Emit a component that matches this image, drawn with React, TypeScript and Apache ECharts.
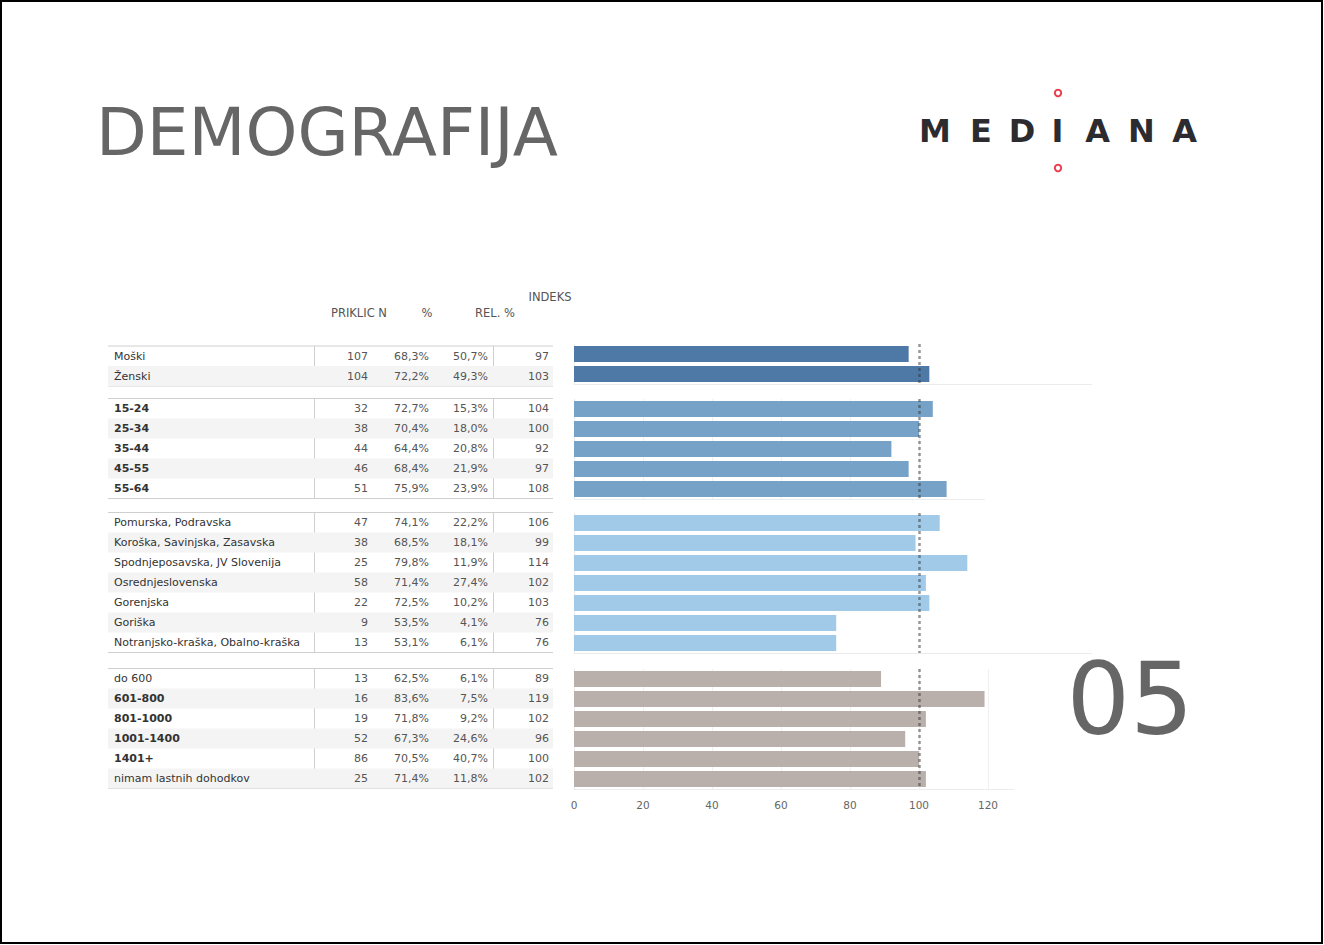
import React, { useEffect, useRef } from "react";
import * as echarts from "echarts";

// ---------- DATA ----------
const genderLabels = ["Moški", "Ženski"];
const genderN = [107, 104];
const genderPct = [68.3, 72.2];
const genderRel = [50.7, 49.3];
const genderIndex = [97, 103];

const ageLabels = ["15-24", "25-34", "35-44", "45-55", "55-64"];
const ageN = [32, 38, 44, 46, 51];
const agePct = [72.7, 70.4, 64.4, 68.4, 75.9];
const ageRel = [15.3, 18.0, 20.8, 21.9, 23.9];
const ageIndex = [104, 100, 92, 97, 108];

const regionLabels = [
  "Pomurska, Podravska",
  "Koroška, Savinjska, Zasavska",
  "Spodnjeposavska, JV Slovenija",
  "Osrednjeslovenska",
  "Gorenjska",
  "Goriška",
  "Notranjsko-kraška, Obalno-kraška",
];
const regionN = [47, 38, 25, 58, 22, 9, 13];
const regionPct = [74.1, 68.5, 79.8, 71.4, 72.5, 53.5, 53.1];
const regionRel = [22.2, 18.1, 11.9, 27.4, 10.2, 4.1, 6.1];
const regionIndex = [106, 99, 114, 102, 103, 76, 76];

const incomeLabels = ["do 600", "601-800", "801-1000", "1001-1400", "1401+", "nimam lastnih dohodkov"];
const incomeN = [13, 16, 19, 52, 86, 25];
const incomePct = [62.5, 83.6, 71.8, 67.3, 70.5, 71.4];
const incomeRel = [6.1, 7.5, 9.2, 24.6, 40.7, 11.8];
const incomeIndex = [89, 119, 102, 96, 100, 102];

const boldLabels = ["15-24", "25-34", "35-44", "45-55", "55-64", "601-800", "801-1000", "1001-1400", "1401+"];

const axisTicks = [0, 20, 40, 60, 80, 100, 120];
const referenceIndex = 100;

const headers = { n: "PRIKLIC N", pct: "%", rel: "REL. %", idx: "INDEKS" };
const titleText = "DEMOGRAFIJA";
const pageNumber = "05";
const logoLetters = ["M", "E", "D", "I", "A", "N", "A"];

// ---------- LAYOUT / STYLE ----------
const groups = [
  { labels: genderLabels, n: genderN, pct: genderPct, rel: genderRel, idx: genderIndex },
  { labels: ageLabels, n: ageN, pct: agePct, rel: ageRel, idx: ageIndex },
  { labels: regionLabels, n: regionN, pct: regionPct, rel: regionRel, idx: regionIndex },
  { labels: incomeLabels, n: incomeN, pct: incomePct, rel: incomeRel, idx: incomeIndex },
];
const barColors = ["#4e79a7", "#76a2c7", "#a0cae8", "#bab0ab"];
const barTops = [344, 399, 513, 669];
const tableTops = [346, 398.5, 512.5, 668.5];
const barMax = [150, 119, 150, 127.5];
const showSplit = [false, true, false, true];
const ROW = 20;
const BAR_LEFT = 574;
const PX_PER_UNIT = 3.45;
const TABLE_LEFT = 108;
const TABLE_RIGHT = 553;
const FONT = "DejaVu Sans";
const logoX = [935, 981, 1022, 1057.5, 1097.5, 1141.5, 1184.5];

const fmtPct = (v: number) => v.toFixed(1).replace(".", ",") + "%";

function buildOption() {
  const grid: any[] = [];
  const xAxis: any[] = [];
  const yAxis: any[] = [];
  const series: any[] = [];
  const graphic: any[] = [];

  groups.forEach((g, i) => {
    const h = g.labels.length * ROW;
    grid.push({ left: BAR_LEFT, top: barTops[i], width: barMax[i] * PX_PER_UNIT, height: h });
    grid.push({ left: TABLE_LEFT, top: tableTops[i], width: TABLE_RIGHT - TABLE_LEFT, height: h });

    const isLast = i === groups.length - 1;
    xAxis.push({
      type: "value",
      gridIndex: 2 * i,
      min: 0,
      max: barMax[i],
      interval: 20,
      axisLine: { show: true, lineStyle: { color: "#ececec", width: 1 } },
      axisTick: { show: false },
      axisLabel: {
        show: isLast,
        showMaxLabel: false,
        margin: 10,
        color: "#666",
        fontSize: 10.5,
        fontFamily: FONT,
        formatter: (v: number) => (axisTicks.includes(v) ? String(v) : ""),
      },
      splitLine: {
        show: showSplit[i],
        showMinLine: false,
        showMaxLine: false,
        lineStyle: { color: "#f0f0f0", width: 1 },
      },
    });
    xAxis.push({ type: "value", gridIndex: 2 * i + 1, show: false, min: 0, max: 1 });

    yAxis.push({
      type: "category",
      gridIndex: 2 * i,
      inverse: true,
      data: g.labels,
      axisLine: { show: true, lineStyle: { color: "#ececec", width: 1 } },
      axisTick: { show: false },
      axisLabel: { show: false },
      splitLine: { show: false },
    });
    const tableAxis = (extra: any) => ({
      type: "category",
      gridIndex: 2 * i + 1,
      inverse: true,
      data: g.labels,
      axisLine: { show: false },
      axisTick: { show: false },
      splitLine: { show: false },
      ...extra,
    });
    yAxis.push(
      tableAxis({
        position: "left",
        splitArea: { show: true, areaStyle: { color: ["rgba(255,255,255,0)", "#f4f4f4"] } },
        axisLabel: {
          align: "left",
          margin: -6,
          formatter: (v: string) => (boldLabels.includes(v) ? `{b|${v}}` : `{r|${v}}`),
          rich: {
            b: { fontFamily: FONT, fontSize: 11, fontWeight: "bold", color: "#333" },
            r: { fontFamily: FONT, fontSize: 11, color: "#333" },
          },
        },
      })
    );
    const numCol = (vals: string[], margin: number) =>
      tableAxis({
        position: "right",
        axisLabel: {
          align: "right",
          margin,
          color: "#555",
          fontSize: 11,
          fontFamily: FONT,
          formatter: (_v: string, idx: number) => vals[idx],
        },
      });
    yAxis.push(numCol(g.n.map(String), 368 - TABLE_RIGHT));
    yAxis.push(numCol(g.pct.map(fmtPct), 429 - TABLE_RIGHT));
    yAxis.push(numCol(g.rel.map(fmtPct), 488 - TABLE_RIGHT));
    yAxis.push(numCol(g.idx.map(String), 549 - TABLE_RIGHT));

    series.push({
      type: "bar",
      xAxisIndex: 2 * i,
      yAxisIndex: 6 * i,
      data: g.idx,
      barWidth: 16,
      itemStyle: { color: barColors[i] },
      silent: true,
      markLine: {
        silent: true,
        symbol: "none",
        label: { show: false },
        lineStyle: { color: "rgba(50,50,50,0.5)", width: 2.5, type: [3, 3] },
        data: [{ xAxis: referenceIndex }],
      },
    });

    const top = tableTops[i];
    const bot = top + h;
    const lineStyle = { stroke: "#cfcfcf", lineWidth: 1 };
    graphic.push({ type: "line", shape: { x1: TABLE_LEFT, y1: top, x2: TABLE_RIGHT, y2: top }, style: lineStyle, silent: true });
    graphic.push({ type: "line", shape: { x1: TABLE_LEFT, y1: bot, x2: TABLE_RIGHT, y2: bot }, style: lineStyle, silent: true });
    graphic.push({ type: "line", shape: { x1: 314.5, y1: top, x2: 314.5, y2: bot }, style: lineStyle, silent: true });
    graphic.push({ type: "line", shape: { x1: 493.5, y1: top, x2: 493.5, y2: bot }, style: lineStyle, silent: true });
  });

  const hStyle = { fill: "#555", fontSize: 11.5, fontFamily: FONT };
  graphic.push({ type: "text", x: 331, y: 313, style: { ...hStyle, text: headers.n, verticalAlign: "middle", align: "left" } });
  graphic.push({ type: "text", x: 427, y: 313, style: { ...hStyle, text: headers.pct, verticalAlign: "middle", align: "center" } });
  graphic.push({ type: "text", x: 475, y: 313, style: { ...hStyle, text: headers.rel, verticalAlign: "middle", align: "left" } });
  graphic.push({ type: "text", x: 550, y: 297, style: { ...hStyle, text: headers.idx, verticalAlign: "middle", align: "center" } });

  graphic.push({
    type: "text",
    x: 96,
    y: 132,
    style: { text: titleText, fill: "#666", fontSize: 66, fontFamily: FONT, verticalAlign: "middle", align: "left" },
  });
  graphic.push({
    type: "text",
    x: 1130,
    y: 699,
    style: { text: pageNumber, fill: "#666", fontSize: 100, fontFamily: FONT, verticalAlign: "middle", align: "center" },
  });

  logoLetters.forEach((l, k) => {
    graphic.push({
      type: "text",
      x: logoX[k],
      y: 131,
      style: { text: l, fill: "#2b2b30", fontSize: 32, fontWeight: "bold", fontFamily: FONT, verticalAlign: "middle", align: "center" },
    });
  });
  graphic.push({ type: "circle", shape: { cx: 1058, cy: 93, r: 3.2 }, style: { fill: "#fff", stroke: "#e8414d", lineWidth: 2 } });
  graphic.push({ type: "circle", shape: { cx: 1058, cy: 168, r: 3.2 }, style: { fill: "#fff", stroke: "#e8414d", lineWidth: 2 } });

  graphic.push({ type: "rect", shape: { x: 1, y: 1, width: 1321, height: 942 }, style: { fill: "none", stroke: "#000", lineWidth: 2 }, silent: true });

  return {
    animation: false,
    backgroundColor: "#fff",
    grid,
    xAxis,
    yAxis,
    series,
    graphic,
  };
}

export default function App() {
  const ref = useRef<HTMLDivElement>(null);
  useEffect(() => {
    if (!ref.current) return;
    const chart = echarts.init(ref.current, undefined, { renderer: "svg" });
    chart.setOption(buildOption() as any);
    return () => chart.dispose();
  }, []);
  return (
    <div
      ref={ref}
      style={{ position: "absolute", left: 0, top: 0, width: 1324, height: 945, background: "#fff" }}
    />
  );
}
